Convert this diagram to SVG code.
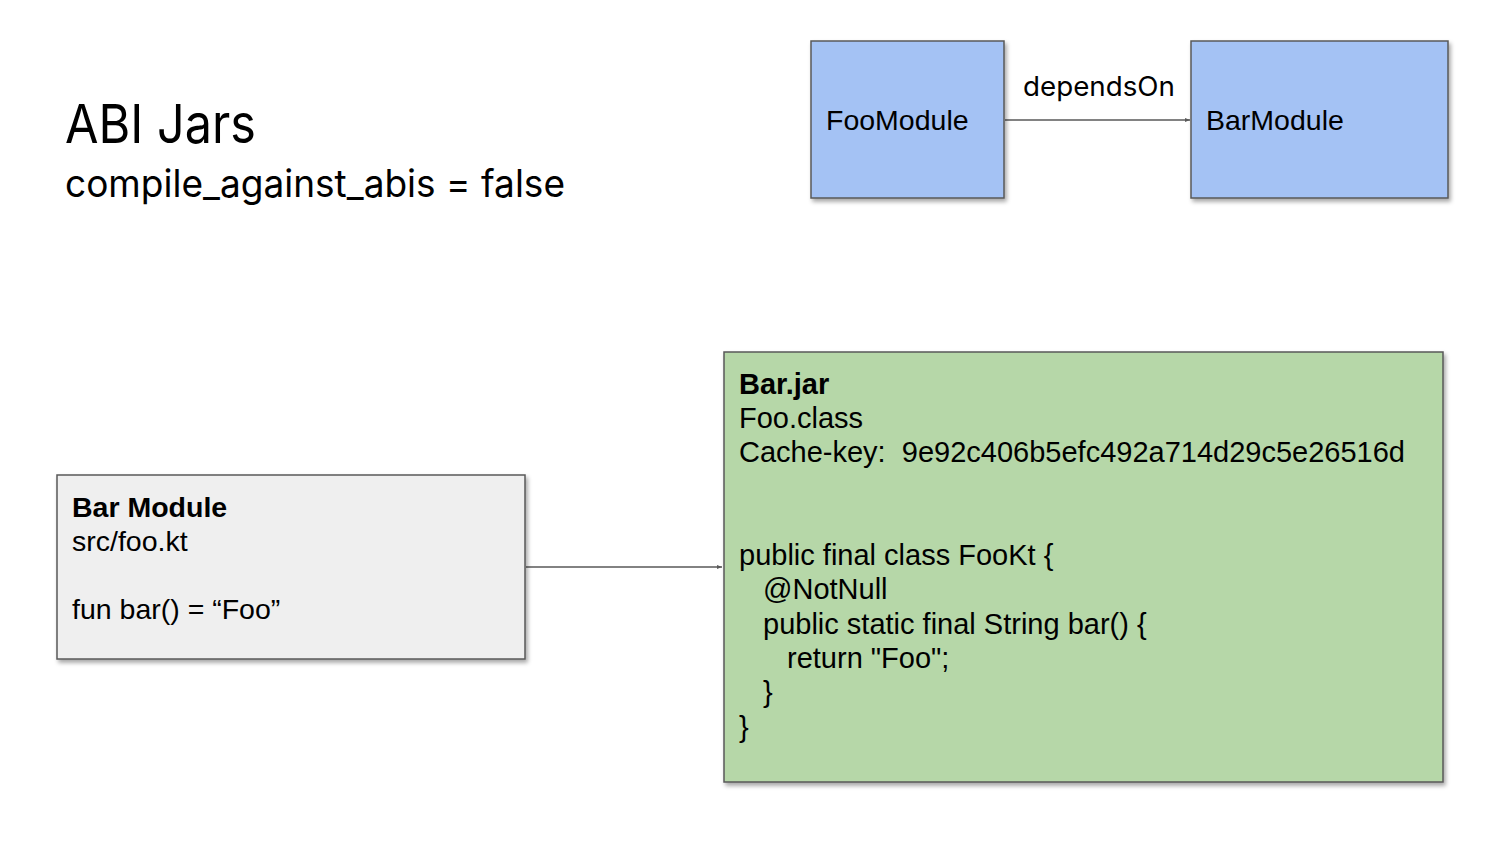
<svg xmlns="http://www.w3.org/2000/svg" width="1500" height="844" viewBox="0 0 1500 844">
<style>
.title{font-family:Inter,"Open Sans","Noto Sans",sans-serif;fill:#000}
.lbl{font-family:"Liberation Sans",Arial,sans-serif;font-size:28.5px;fill:#000}
.txt{font-family:"Liberation Sans",Arial,sans-serif;font-size:29px;fill:#000}
.b{font-weight:bold}
.edge{stroke:#595959;stroke-width:1.5;fill:none}
.box{stroke:#595959;stroke-width:1.5}
</style>
<defs>
<filter id="sh" x="-5%" y="-5%" width="115%" height="115%">
<feDropShadow dx="2" dy="3" stdDeviation="2" flood-color="#000" flood-opacity="0.35"/>
</filter>
<marker id="ah" viewBox="0 0 10 10" refX="10" refY="5" markerWidth="5" markerHeight="5" orient="auto" markerUnits="userSpaceOnUse">
<path d="M0,1 L10,5 L0,9 Z" fill="#595959"/>
</marker>
</defs>
<rect width="1500" height="844" fill="#fff"/>
<g id="title">
<text class="title" x="65" y="143" font-size="54" textLength="191" lengthAdjust="spacingAndGlyphs">ABI Jars</text>
<text class="title" x="65" y="197" font-size="38" textLength="500" lengthAdjust="spacingAndGlyphs">compile_against_abis = false</text>
</g>
<g id="connectors">
<line class="edge" x1="1005" y1="120" x2="1190" y2="120" marker-end="url(#ah)"/>
<text class="title" x="1023" y="96" font-size="27" textLength="152" lengthAdjust="spacingAndGlyphs">dependsOn</text>
<line class="edge" x1="526" y1="567" x2="722" y2="567" marker-end="url(#ah)"/>
</g>
<g id="FooModule">
<rect class="box" x="811" y="41" width="193" height="157" fill="#a4c2f4" filter="url(#sh)"/>
<text class="lbl" x="826" y="130">FooModule</text>
</g>
<g id="BarModule">
<rect class="box" x="1191" y="41" width="257" height="157" fill="#a4c2f4" filter="url(#sh)"/>
<text class="lbl" x="1206" y="130">BarModule</text>
</g>
<g id="BarModuleSrc">
<rect class="box" x="57" y="475" width="468" height="184" fill="#efefef" filter="url(#sh)"/>
<text class="lbl b" x="72" y="517">Bar Module</text>
<text class="lbl" x="72" y="551">src/foo.kt</text>
<text class="lbl" x="72" y="619">fun bar() = “Foo”</text>
</g>
<g id="BarJar">
<rect class="box" x="724" y="352" width="719" height="430" fill="#b6d7a8" filter="url(#sh)"/>
<text class="txt b" x="739" y="394">Bar.jar</text>
<text class="txt" x="739" y="428">Foo.class</text>
<text class="txt" x="739" y="462" xml:space="preserve">Cache-key:  9e92c406b5efc492a714d29c5e26516d</text>
<text class="txt" x="739" y="565">public final class FooKt {</text>
<text class="txt" x="763" y="599">@NotNull</text>
<text class="txt" x="763" y="634">public static final String bar() {</text>
<text class="txt" x="787" y="668">return "Foo";</text>
<text class="txt" x="763" y="702">}</text>
<text class="txt" x="739" y="737">}</text>
</g>
</svg>
